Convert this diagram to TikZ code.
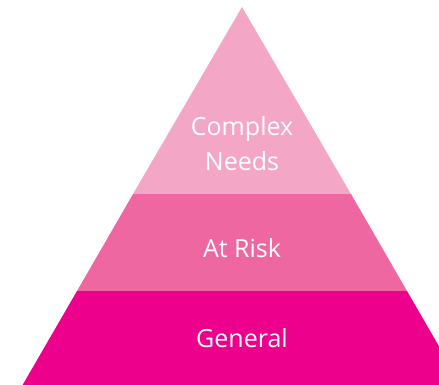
\documentclass[tikz,border=0pt]{standalone}
\usepackage{fontspec}
\setmainfont{Open Sans}
\definecolor{topc}{HTML}{F4A6C6}
\definecolor{midc}{HTML}{EE67A0}
\definecolor{botc}{HTML}{EC008C}
\begin{document}
\begin{tikzpicture}[x=1pt,y=-1pt,
  lbl/.style={text=white,font=\fontsize{25}{35}\selectfont,align=center,inner sep=0pt}]
\useasboundingbox (0,0) rectangle (439,384);
\clip (0,0) rectangle (439,384);
\coordinate (apex) at (242,7);
\coordinate (l1) at (133,194);
\coordinate (r1) at (351,194);
\coordinate (l2) at (77,291);
\coordinate (r2) at (407,291);
\coordinate (l3) at (22,386);
\coordinate (r3) at (462,386);
\fill[topc] (apex) -- (r1) -- (l1) -- cycle;
\fill[midc] (l1) -- (r1) -- (r2) -- (l2) -- cycle;
\fill[botc] (l2) -- (r2) -- (r3) -- (l3) -- cycle;
\node[lbl,anchor=base] (cn) at (242,170) {Complex\\Needs};
\node[lbl,anchor=base] (ar) at (242,257) {At Risk};
\node[lbl,anchor=base] (gn) at (242,347) {General};
\end{tikzpicture}
\end{document}
